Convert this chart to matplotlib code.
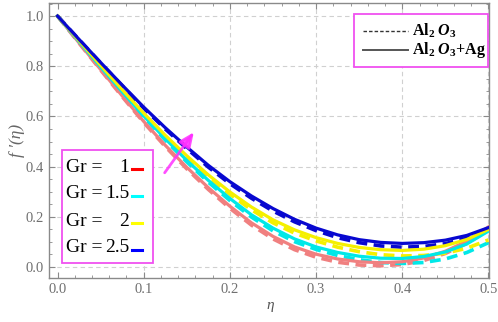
import matplotlib
matplotlib.use("Agg")
import matplotlib.pyplot as plt
import numpy as np
from matplotlib.lines import Line2D
from matplotlib.patches import Rectangle
from matplotlib.ticker import MultipleLocator

plt.rcParams['font.family'] = ['Liberation Serif', 'DejaVu Serif']
plt.rcParams['mathtext.fontset'] = 'custom'
plt.rcParams['mathtext.rm'] = 'Liberation Serif'
plt.rcParams['mathtext.it'] = 'Liberation Serif:italic'
plt.rcParams['mathtext.bf'] = 'Liberation Serif:bold'
plt.rcParams['mathtext.bfit'] = 'Liberation Serif:italic:bold'

eta = [0.000, 0.025, 0.050, 0.075, 0.100, 0.125, 0.150, 0.175, 0.200, 0.225, 0.250,
       0.275, 0.300, 0.325, 0.350, 0.375, 0.400, 0.425, 0.450, 0.475, 0.500]

gr_labels = ['1', '1.5', '2', '2.5']
gr_colors = ['#f08080', '#00e8e8', '#f5f000', '#0808d0']
swatch_colors = ['#ff0000', '#00ffff', '#ffff00', '#0000ff']

# Al2O3 + Ag (solid)
hybrid = [
    [1.000, 0.893, 0.787, 0.682, 0.580, 0.485, 0.397, 0.316, 0.242, 0.176, 0.122,
     0.080, 0.051, 0.032, 0.021, 0.017, 0.021, 0.036, 0.063, 0.103, 0.160],
    [1.000, 0.898, 0.797, 0.698, 0.602, 0.511, 0.425, 0.345, 0.273, 0.208, 0.155,
     0.112, 0.080, 0.058, 0.043, 0.035, 0.034, 0.042, 0.060, 0.092, 0.143],
    [1.000, 0.902, 0.804, 0.707, 0.613, 0.525, 0.443, 0.367, 0.299, 0.239, 0.188,
     0.148, 0.117, 0.094, 0.078, 0.069, 0.066, 0.071, 0.085, 0.110, 0.150],
    [1.000, 0.907, 0.815, 0.725, 0.637, 0.555, 0.478, 0.405, 0.340, 0.283, 0.233,
     0.190, 0.155, 0.128, 0.109, 0.098, 0.094, 0.097, 0.107, 0.126, 0.157],
]

# Al2O3 (dashed)
mono = [
    [1.000, 0.892, 0.785, 0.679, 0.576, 0.480, 0.391, 0.309, 0.234, 0.167, 0.112,
     0.069, 0.039, 0.019, 0.008, 0.005, 0.010, 0.026, 0.054, 0.094, 0.148],
    [1.000, 0.897, 0.795, 0.695, 0.598, 0.506, 0.419, 0.338, 0.265, 0.199, 0.144,
     0.101, 0.070, 0.046, 0.029, 0.018, 0.014, 0.018, 0.032, 0.058, 0.097],
    [1.000, 0.901, 0.802, 0.704, 0.609, 0.520, 0.436, 0.359, 0.290, 0.228, 0.176,
     0.135, 0.104, 0.079, 0.061, 0.049, 0.044, 0.046, 0.055, 0.075, 0.108],
    [1.000, 0.906, 0.813, 0.722, 0.633, 0.550, 0.472, 0.398, 0.332, 0.274, 0.223,
     0.180, 0.145, 0.117, 0.097, 0.084, 0.079, 0.082, 0.093, 0.115, 0.152],
]

W, H = 498, 322
fig = plt.figure(figsize=(W / 100, H / 100), dpi=100)
ax = fig.add_axes([49 / W, 1 - 278 / H, (489 - 49) / W, (278 - 3) / H])

for i in range(4):
    ax.plot(eta, mono[i], color=gr_colors[i], lw=2.6, dashes=(3.0, 1.8), zorder=3)
    ax.plot(eta, hybrid[i], color=gr_colors[i], lw=2.3, zorder=4)

ax.set_xlim(-0.0099, 0.5006)
ax.set_ylim(-0.0438, 1.052)
ax.xaxis.set_minor_locator(MultipleLocator(0.02))
ax.yaxis.set_minor_locator(MultipleLocator(0.05))
ax.set_xticks([0.0, 0.1, 0.2, 0.3, 0.4, 0.5])
ax.set_xticklabels(['0.0', '0.1', '0.2', '0.3', '0.4', '0.5'])
ax.set_yticks([0.0, 0.2, 0.4, 0.6, 0.8, 1.0])
ax.set_yticklabels(['0.0', '0.2', '0.4', '0.6', '0.8', '1.0'])

gc = '#8a8a8a'
for s in ax.spines.values():
    s.set_color(gc)
    s.set_linewidth(1.0)
ax.tick_params(which='both', direction='in', top=True, right=True, color=gc,
               labelcolor='#707070', labelsize=10.5)
ax.tick_params(which='major', length=4, width=0.8)
ax.tick_params(which='minor', length=2.2, width=0.6)

for gx in [0.1, 0.2, 0.3, 0.4, 0.5]:
    ax.axvline(gx, color='#d0d0d0', lw=0.8, ls=(0, (4, 3)), zorder=1)
for gy in [0.0, 0.2, 0.4, 0.6, 0.8, 1.0]:
    ax.axhline(gy, color='#d0d0d0', lw=0.8, ls=(0, (4, 3)), zorder=1)


def fx(px):
    return px / W


def fy(py):
    return 1 - py / H


fig.text(fx(270), fy(305), 'η', fontstyle='italic', fontsize=11, color='#555555',
         ha='center', va='center')
fig.text(fx(17), fy(140), 'f ′(η)', fontstyle='italic', fontsize=12.5, color='#666666',
         ha='center', va='center', rotation=90)

# arrow showing increasing Gr
ax.annotate('', xy=(0.160, 0.546), xytext=(0.1224, 0.3665),
            arrowprops=dict(arrowstyle='-|>,head_length=0.9,head_width=0.4',
                            color='#ff30ff', lw=2.0, alpha=0.85), zorder=6)

mag = '#f050f0'
# top-right legend
fig.patches.append(Rectangle((fx(354), fy(67)), fx(488) - fx(354), fy(14) - fy(67),
                             transform=fig.transFigure, fill=True, facecolor='white',
                             edgecolor=mag, lw=1.3, zorder=10))
fig.lines.append(Line2D([fx(363), fx(408)], [fy(31), fy(31)], transform=fig.transFigure,
                        color='#333333', lw=1.0, ls=(0, (2.5, 1.5)), zorder=11))
fig.lines.append(Line2D([fx(363), fx(408)], [fy(50), fy(50)], transform=fig.transFigure,
                        color='#555555', lw=1.4, zorder=11))
fig.text(fx(412), fy(31), r'$\mathbf{Al}_{\mathbf{2}}\ \mathbfit{O}_{\mathbf{3}}$',
         fontsize=11.5, va='center', ha='left', zorder=12)
fig.text(fx(412), fy(50), r'$\mathbf{Al}_{\mathbf{2}}\ \mathbfit{O}_{\mathbf{3}}\mathbf{+Ag}$',
         fontsize=11.5, va='center', ha='left', zorder=12)

# Gr legend
fig.patches.append(Rectangle((fx(62), fy(263)), fx(153) - fx(62), fy(150) - fy(263),
                             transform=fig.transFigure, fill=True, facecolor='white',
                             edgecolor=mag, lw=1.3, zorder=10))
rows = [167, 194, 221, 248]
for i in range(4):
    fig.text(fx(66), fy(rows[i]), 'Gr =', fontsize=14, va='center', ha='left', zorder=12)
    fig.text(fx(129), fy(rows[i]), gr_labels[i], fontsize=14, va='center', ha='right', zorder=12)
    fig.lines.append(Line2D([fx(132), fx(142)], [fy(rows[i] + 2), fy(rows[i] + 2)],
                            transform=fig.transFigure, color=swatch_colors[i], lw=2.2,
                            zorder=11))

fig.savefig('out.png', dpi=100)
